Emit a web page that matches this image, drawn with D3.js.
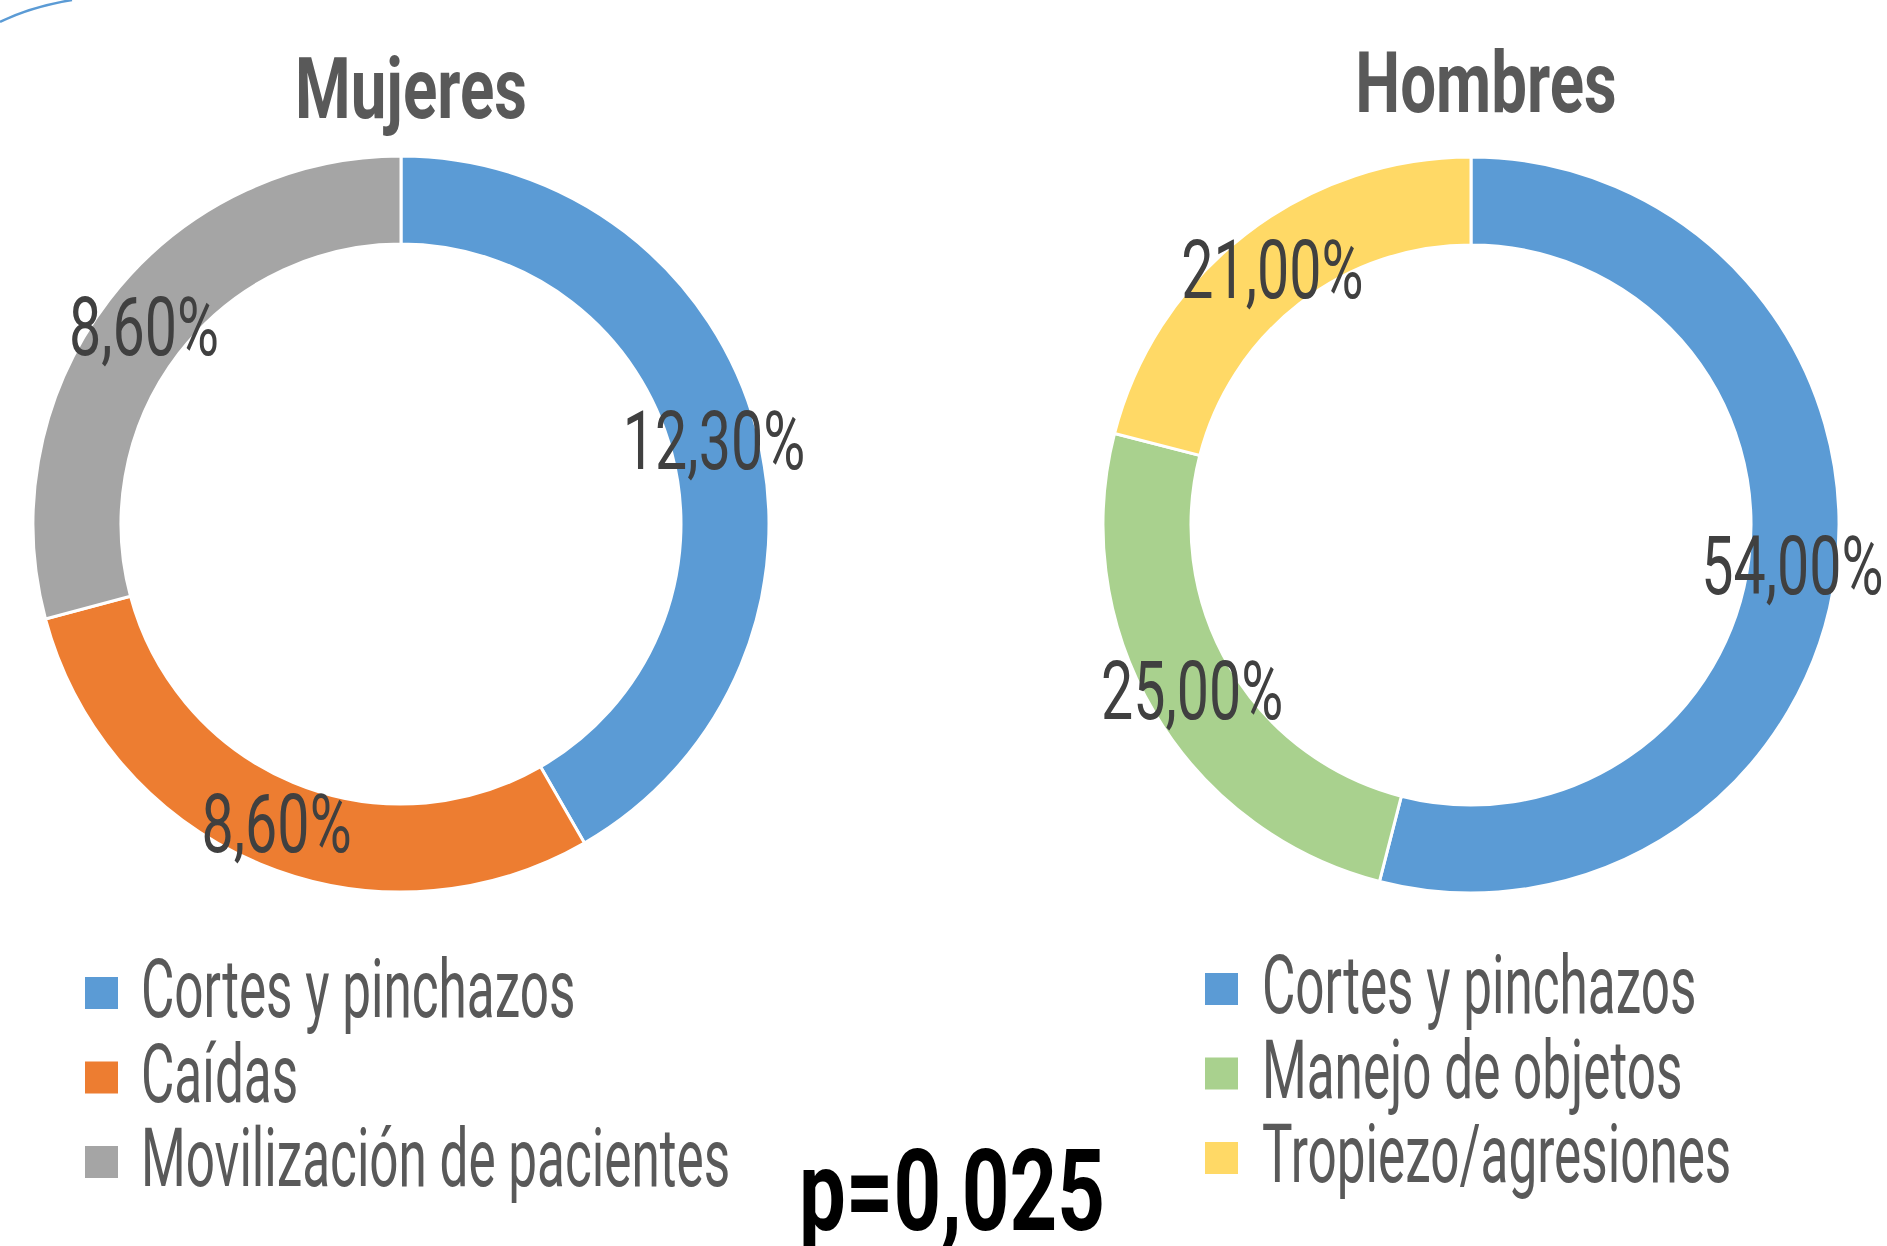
<!DOCTYPE html>
<html>
<head>
<meta charset="utf-8">
<script src="https://cdn.jsdelivr.net/npm/d3@7"></script>
<style>
  body { margin: 0; background: #fff; }
  svg { display: block; }
  text { font-family: Roboto, "DejaVu Sans", sans-serif; }
</style>
</head>
<body>
<div id="chart"></div>
<script>
// === data ===
const mujeresCats = ["Cortes y pinchazos", "Caídas", "Movilización de pacientes"];
const mujeresValues = [12.3, 8.6, 8.6];
const mujeresColors = ["#5B9BD5", "#ED7D31", "#A5A5A5"];

const hombresCats = ["Cortes y pinchazos", "Manejo de objetos", "Tropiezo/agresiones"];
const hombresValues = [54, 25, 21];
const hombresColors = ["#5B9BD5", "#A9D18E", "#FFD966"];

const pValue = "p=0,025";

// === setup ===
const width = 1887, height = 1246;
const outerR = 368, innerR = 280;
const labelSqueeze = 0.70;   // condensed look of the original font
const legendSqueeze = 0.625;

const svg = d3.select("#chart").append("svg")
    .attr("width", width).attr("height", height);

svg.append("rect").attr("width", width).attr("height", height).attr("fill", "#fff");

// little decorative arc in the top-left corner
const deco = d3.path();
deco.moveTo(0, 22);
deco.quadraticCurveTo(30, 7, 72, 0);
svg.append("path").attr("d", deco.toString())
    .attr("fill", "none").attr("stroke", "#5B9BD5").attr("stroke-width", 2.5);

const pie = d3.pie().sort(null).value(d => d);
const arc = d3.arc().innerRadius(innerR).outerRadius(outerR);
const fmt = v => d3.format(".2f")(v).replace(".", ",") + "%";

function condensedText(parent, x, y, str, sx) {
    return parent.append("text")
        .attr("transform", `translate(${x},${y}) scale(${sx},1)`)
        .text(str);
}

function drawDonut(cfg) {
    const g = svg.append("g").attr("transform", `translate(${cfg.cx},${cfg.cy})`);
    const arcs = pie(cfg.values);

    g.selectAll("path.slice")
        .data(arcs)
        .join("path")
        .attr("class", "slice")
        .attr("d", arc)
        .attr("fill", (d, i) => cfg.colors[i])
        .attr("stroke", "#fff")
        .attr("stroke-width", 3);

    arcs.forEach(d => {
        const [x, y] = arc.centroid(d);
        condensedText(g, x, y, fmt(d.data), labelSqueeze)
            .attr("text-anchor", "middle")
            .attr("dy", "0.35em")
            .attr("font-size", 82)
            .attr("fill", "#404040");
    });

    // title
    condensedText(svg, cfg.titleX, cfg.titleY, cfg.title, 0.74)
        .attr("text-anchor", "middle")
        .attr("font-size", 86)
        .attr("font-weight", "bold")
        .attr("fill", "#595959");

    // legend
    const leg = svg.append("g").attr("transform", `translate(${cfg.legX},${cfg.legY})`);
    cfg.cats.forEach((c, i) => {
        const row = leg.append("g").attr("transform", `translate(0,${i * 84.5})`);
        row.append("rect")
            .attr("x", 0).attr("y", -40)
            .attr("width", 33).attr("height", 32)
            .attr("fill", cfg.colors[i]);
        condensedText(row, cfg.legTextDx, 0, c, legendSqueeze)
            .attr("font-size", 82)
            .attr("fill", "#595959");
    });
}

drawDonut({
    cx: 401, cy: 524, values: mujeresValues, colors: mujeresColors, cats: mujeresCats,
    title: "Mujeres", titleX: 411, titleY: 118,
    legX: 85, legY: 1017, legTextDx: 56
});

drawDonut({
    cx: 1471, cy: 525, values: hombresValues, colors: hombresColors, cats: hombresCats,
    title: "Hombres", titleX: 1486, titleY: 112,
    legX: 1205, legY: 1013, legTextDx: 57
});

// p value
condensedText(svg, 952, 1230, pValue, 0.73)
    .attr("text-anchor", "middle")
    .attr("font-size", 114)
    .attr("font-weight", "bold")
    .attr("fill", "#000");
</script>
</body>
</html>
